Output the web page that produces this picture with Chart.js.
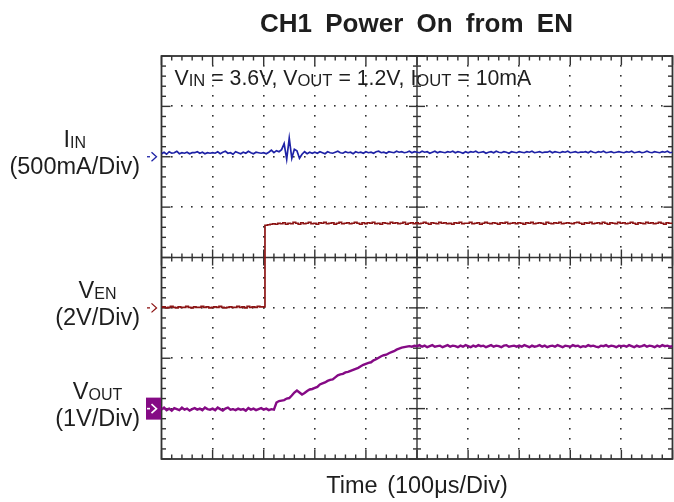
<!DOCTYPE html>
<html lang="en">
<head>
<meta charset="UTF-8">
<title>CH1 Power On from EN</title>
<script src="https://cdn.jsdelivr.net/npm/chart.js"></script>
<style>
  html, body { margin: 0; padding: 0; background: #fff; }
  #scope { display: block; }
</style>
</head>
<body>
<canvas id="scope" width="674" height="502"></canvas>
<script>
// time axis in divisions (100us/div), one sample every 0.05 div
const time = Array.from({ length: 201 }, (_, i) => +(i * 0.05).toFixed(2));

// traces, in screen divisions (centre line = 0)
const iin = [
  2.06, 2.09, 2.05, 2.10, 2.07, 2.08, 2.11, 2.06, 2.08, 2.07, 2.09, 2.06, 2.08, 2.08, 2.10, 2.07, 2.09, 2.06, 2.08, 2.07,
  2.08, 2.07, 2.10, 2.06, 2.09, 2.11, 2.07, 2.08, 2.05, 2.10, 2.08, 2.06, 2.09, 2.07, 2.11, 2.08, 2.06, 2.09, 2.08, 2.07,
  2.08, 2.06, 2.09, 2.13, 2.08, 2.12, 2.10, 2.14, 2.26, 1.95, 2.37, 1.97, 2.15, 2.12, 1.97, 2.05, 2.10, 2.06, 2.09, 2.07,
  2.09, 2.07, 2.10, 2.08, 2.06, 2.10, 2.08, 2.07, 2.09, 2.11, 2.08, 2.07, 2.10, 2.08, 2.09, 2.06, 2.10, 2.08, 2.09, 2.07,
  2.10, 2.08, 2.09, 2.07, 2.10, 2.11, 2.08, 2.09, 2.07, 2.10, 2.09, 2.08, 2.11, 2.09, 2.10, 2.08, 2.09, 2.11, 2.08, 2.10,
  2.09, 2.08, 2.11, 2.09, 2.10, 2.07, 2.09, 2.11, 2.08, 2.10, 2.09, 2.08, 2.10, 2.09, 2.11, 2.08, 2.10, 2.09, 2.07, 2.10,
  2.08, 2.10, 2.09, 2.11, 2.08, 2.09, 2.10, 2.07, 2.09, 2.10, 2.08, 2.11, 2.09, 2.08, 2.10, 2.09, 2.07, 2.10, 2.09, 2.08,
  2.10, 2.09, 2.08, 2.10, 2.09, 2.11, 2.08, 2.09, 2.10, 2.08, 2.09, 2.09, 2.11, 2.08, 2.10, 2.09, 2.08, 2.10, 2.09, 2.11,
  2.08, 2.09, 2.10, 2.08, 2.09, 2.09, 2.10, 2.08, 2.11, 2.09, 2.08, 2.10, 2.09, 2.11, 2.08, 2.09, 2.10, 2.08, 2.09, 2.10,
  2.09, 2.08, 2.10, 2.09, 2.11, 2.08, 2.09, 2.10, 2.08, 2.09, 2.11, 2.09, 2.08, 2.10, 2.09, 2.08, 2.10, 2.09, 2.11, 2.08,
  2.09
];

const ven = [
  -0.99, -0.98, -1.00, -0.99, -0.97, -0.99, -1.00, -0.98, -0.99, -0.99, -0.97, -0.99, -1.00, -0.98, -0.99, -0.99, -0.97, -0.99, -0.98, -1.00,
  -0.99, -0.98, -0.99, -0.97, -0.99, -1.00, -0.99, -0.98, -0.99, -0.99, -0.97, -0.99, -0.98, -1.00, -0.97, -0.99, -0.98, -0.99, -0.97, -0.98,
  -0.98, 0.64, 0.65, 0.66, 0.67, 0.66, 0.68, 0.67, 0.69, 0.66, 0.68, 0.67, 0.70, 0.68, 0.66, 0.69, 0.67, 0.68, 0.70, 0.67,
  0.68, 0.66, 0.69, 0.68, 0.70, 0.67, 0.68, 0.69, 0.66, 0.68, 0.70, 0.67, 0.68, 0.69, 0.67, 0.68, 0.70, 0.68, 0.66, 0.69,
  0.67, 0.69, 0.68, 0.70, 0.67, 0.68, 0.66, 0.69, 0.68, 0.67, 0.70, 0.68, 0.69, 0.67, 0.68, 0.70, 0.66, 0.68, 0.69, 0.67,
  0.69, 0.67, 0.68, 0.70, 0.68, 0.66, 0.69, 0.68, 0.67, 0.70, 0.68, 0.69, 0.67, 0.68, 0.66, 0.69, 0.68, 0.70, 0.67, 0.68,
  0.68, 0.70, 0.67, 0.68, 0.69, 0.66, 0.68, 0.70, 0.68, 0.67, 0.69, 0.68, 0.66, 0.69, 0.68, 0.70, 0.67, 0.68, 0.69, 0.67,
  0.69, 0.68, 0.66, 0.69, 0.68, 0.70, 0.67, 0.68, 0.69, 0.68, 0.66, 0.70, 0.68, 0.67, 0.69, 0.68, 0.70, 0.67, 0.68, 0.69,
  0.68, 0.67, 0.69, 0.70, 0.68, 0.66, 0.69, 0.68, 0.70, 0.67, 0.68, 0.69, 0.67, 0.70, 0.68, 0.66, 0.69, 0.68, 0.67, 0.70,
  0.68, 0.69, 0.67, 0.68, 0.70, 0.68, 0.66, 0.69, 0.68, 0.67, 0.70, 0.68, 0.69, 0.67, 0.68, 0.70, 0.68, 0.66, 0.69, 0.68,
  0.68
];

const vout = [
  -3.02, -2.98, -3.03, -3.00, -3.04, -2.99, -3.01, -3.03, -2.98, -3.02, -3.00, -3.04, -3.01, -2.99, -3.02, -3.00, -3.03, -2.98, -3.01, -3.02,
  -3.00, -3.03, -2.98, -3.01, -3.04, -3.00, -2.98, -3.02, -3.01, -3.03, -3.00, -3.02, -3.01, -3.04, -2.99, -3.02, -3.00, -3.03, -3.01, -2.99,
  -3.02, -3.00, -3.03, -3.01, -3.02, -2.88, -2.85, -2.84, -2.83, -2.80, -2.79, -2.74, -2.68, -2.64, -2.68, -2.72, -2.69, -2.65, -2.62, -2.61,
  -2.59, -2.57, -2.52, -2.50, -2.48, -2.45, -2.43, -2.42, -2.38, -2.34, -2.32, -2.31, -2.28, -2.27, -2.25, -2.23, -2.21, -2.19, -2.16, -2.13,
  -2.11, -2.09, -2.08, -2.04, -2.02, -1.99, -1.96, -1.94, -1.93, -1.90, -1.88, -1.86, -1.83, -1.81, -1.79, -1.78, -1.77, -1.76, -1.77, -1.75,
  -1.76, -1.74, -1.77, -1.75, -1.78, -1.76, -1.74, -1.77, -1.76, -1.75, -1.78, -1.76, -1.74, -1.77, -1.75, -1.76, -1.78, -1.75, -1.77, -1.74,
  -1.76, -1.78, -1.75, -1.77, -1.74, -1.76, -1.75, -1.78, -1.76, -1.74, -1.77, -1.75, -1.76, -1.78, -1.75, -1.74, -1.77, -1.76, -1.75, -1.77,
  -1.75, -1.77, -1.74, -1.76, -1.78, -1.75, -1.77, -1.76, -1.74, -1.77, -1.75, -1.78, -1.76, -1.75, -1.77, -1.74, -1.76, -1.78, -1.75, -1.76,
  -1.77, -1.74, -1.76, -1.75, -1.78, -1.76, -1.77, -1.74, -1.76, -1.75, -1.77, -1.78, -1.75, -1.76, -1.74, -1.77, -1.75, -1.76, -1.78, -1.75,
  -1.76, -1.75, -1.77, -1.74, -1.76, -1.78, -1.75, -1.77, -1.76, -1.74, -1.77, -1.75, -1.76, -1.78, -1.75, -1.77, -1.74, -1.76, -1.75, -1.77,
  -1.76
];

// channel labels on the left, ground marker level in divisions
const channels = [
  { main: 'I', sub: 'IN', scale: '(500mA/Div)', ground: 2, color: '#1e22a6', box: false },
  { main: 'V', sub: 'EN', scale: '(2V/Div)', ground: -1, color: '#8c1414', box: false },
  { main: 'V', sub: 'OUT', scale: '(1V/Div)', ground: -3, color: '#850a85', box: true }
];

const FONT = '"Liberation Sans", Arial, Helvetica, sans-serif';
const INK = '#1e1e1e';
const GRID = '#333';

function line(ctx, x1, y1, x2, y2) {
  ctx.beginPath();
  ctx.moveTo(x1, y1);
  ctx.lineTo(x2, y2);
  ctx.stroke();
}

// draw text pieces [text, size, dy] in a row, returns width
function rich(ctx, parts, x, y, align) {
  let w = 0;
  parts.forEach(p => { ctx.font = p[1] + 'px ' + FONT; w += ctx.measureText(p[0]).width; });
  let cx = align === 'center' ? x - w / 2 : align === 'right' ? x - w : x;
  ctx.textAlign = 'left';
  parts.forEach(p => {
    ctx.font = p[1] + 'px ' + FONT;
    ctx.fillText(p[0], cx, y + (p[2] || 0));
    cx += ctx.measureText(p[0]).width;
  });
  return w;
}

// oscilloscope graticule
const graticule = {
  id: 'graticule',
  beforeDatasetsDraw(chart) {
    const { ctx, chartArea: a, scales: { x, y } } = chart;
    ctx.save();
    ctx.fillStyle = GRID;
    for (let d = 1; d < 10; d++) {
      if (d === 5) continue;
      const px = Math.round(x.getPixelForValue(d));
      for (let k = -19; k <= 19; k++) {
        ctx.fillRect(px - 1, Math.round(y.getPixelForValue(k / 5)) - 1, 1.6, 1.6);
      }
    }
    for (let d = -3; d <= 3; d++) {
      if (d === 0) continue;
      const py = Math.round(y.getPixelForValue(d));
      for (let k = 1; k < 50; k++) {
        ctx.fillRect(Math.round(x.getPixelForValue(k / 5)) - 1, py - 1, 1.6, 1.6);
      }
    }
    ctx.strokeStyle = GRID;
    ctx.lineWidth = 1.4;
    const cx = x.getPixelForValue(5), cy = y.getPixelForValue(0);
    line(ctx, a.left, cy, a.right, cy);
    line(ctx, cx, a.top, cx, a.bottom);
    for (let k = 0; k <= 50; k++) {
      const px = x.getPixelForValue(k / 5);
      const major = k % 5 === 0;
      line(ctx, px, a.top, px, a.top + (major ? 9 : 4.5));
      line(ctx, px, a.bottom, px, a.bottom - (major ? 9 : 4.5));
      line(ctx, px, cy - (major ? 8 : 4), px, cy + (major ? 8 : 4));
    }
    for (let k = -20; k <= 20; k++) {
      const py = y.getPixelForValue(k / 5);
      const major = k % 5 === 0;
      line(ctx, a.left, py, a.left + (major ? 9 : 4.5), py);
      line(ctx, a.right, py, a.right - (major ? 9 : 4.5), py);
      line(ctx, cx - (major ? 8 : 4), py, cx + (major ? 8 : 4), py);
    }
    ctx.lineWidth = 1.8;
    ctx.strokeRect(a.left, a.top, a.right - a.left, a.bottom - a.top);
    ctx.restore();
  },
  afterDraw(chart) {
    const { ctx, chartArea: a, scales: { x, y } } = chart;
    ctx.save();
    ctx.fillStyle = INK;
    ctx.textBaseline = 'alphabetic';

    // title
    ctx.font = 'bold 26px ' + FONT;
    ctx.textAlign = 'center';
    if ('wordSpacing' in ctx) ctx.wordSpacing = '6px';
    ctx.fillText('CH1 Power On from EN', 416.5, 32);
    if ('wordSpacing' in ctx) ctx.wordSpacing = '3px';

    // x axis caption
    ctx.font = '23.5px ' + FONT;
    ctx.fillText('Time (100\u03bcs/Div)', (a.left + a.right) / 2, 493);
    if ('wordSpacing' in ctx) ctx.wordSpacing = '0px';

    // test conditions
    rich(ctx, [
      ['V', 21.3], ['IN', 16.6, 0.5], [' = 3.6V, V', 21.3], ['OUT', 16.6, 0.5],
      [' = 1.2V, I', 21.3], ['OUT', 16.6, 0.5], [' = 10mA', 21.3]
    ], a.left + 13, 85, 'left');

    // channel names, scales and ground markers
    channels.forEach(ch => {
      const g = y.getPixelForValue(ch.ground);
      ctx.fillStyle = INK;
      ctx.font = '23.5px ' + FONT;
      const w2 = ctx.measureText(ch.scale).width;
      ctx.textAlign = 'right';
      ctx.fillText(ch.scale, 140, g + 17);
      rich(ctx, [[ch.main, 23.5], [ch.sub, 16, 0.5]], 140 - w2 / 2, g - 9.5, 'center');

      ctx.lineWidth = 1.3;
      if (ch.box) {
        ctx.fillStyle = ch.color;
        ctx.fillRect(146, g - 11, 15, 22);
        ctx.strokeStyle = '#fff';
        ctx.lineWidth = 1.6;
      } else {
        ctx.strokeStyle = ch.color;
      }
      line(ctx, 147, g, 150, g);
      ctx.beginPath();
      ctx.moveTo(151.5, g - 4.5);
      ctx.lineTo(156.5, g);
      ctx.lineTo(151.5, g + 4.5);
      ctx.stroke();
    });
    ctx.restore();
  }
};

const pts = vals => vals.map((v, i) => ({ x: time[i], y: v }));

new Chart(document.getElementById('scope'), {
  type: 'line',
  data: {
    datasets: [
      { label: 'IIN', data: pts(iin), borderColor: channels[0].color, borderWidth: 1.7 },
      { label: 'VEN', data: pts(ven), borderColor: channels[1].color, borderWidth: 1.7, stepped: 'middle' },
      { label: 'VOUT', data: pts(vout), borderColor: channels[2].color, borderWidth: 2.4 }
    ]
  },
  options: {
    responsive: false,
    animation: false,
    devicePixelRatio: 1,
    layout: { padding: { left: 161.5, top: 56, right: 1.5, bottom: 43 } },
    elements: { point: { radius: 0 }, line: { tension: 0 } },
    scales: {
      x: { type: 'linear', min: 0, max: 10, display: false },
      y: { type: 'linear', min: -4, max: 4, display: false }
    },
    plugins: {
      legend: { display: false },
      tooltip: { enabled: false },
      title: { display: false }
    }
  },
  plugins: [graticule]
});
</script>
</body>
</html>
